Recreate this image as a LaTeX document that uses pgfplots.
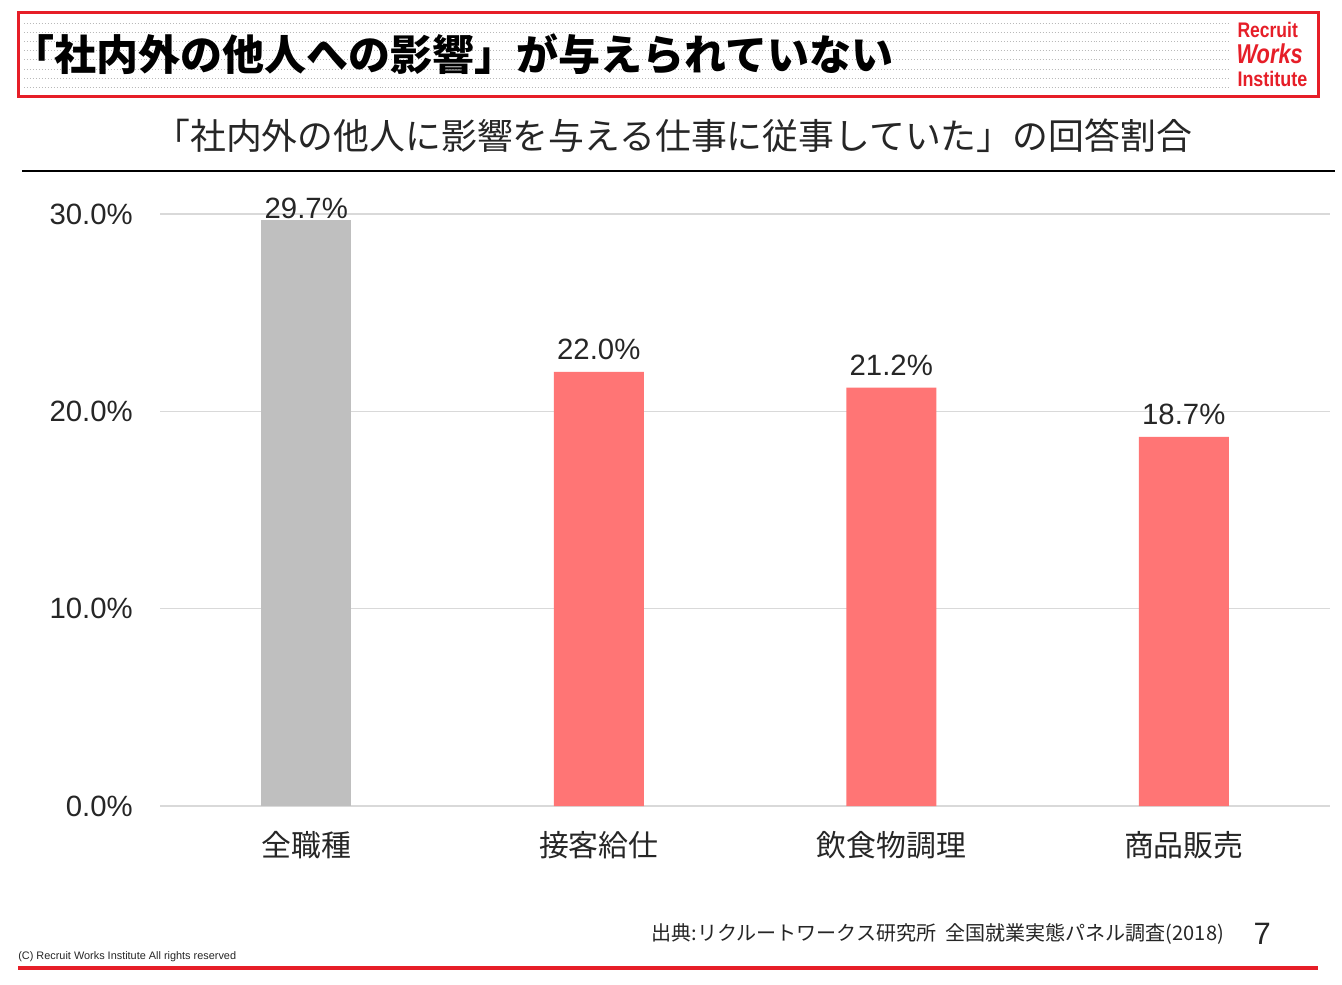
\documentclass[border=0pt]{standalone}
\usepackage{fontspec}
\usepackage{pgfplots}
\pgfplotsset{compat=1.18}
\setmainfont{Noto Sans CJK JP}
\newfontfamily\arial{Liberation Sans}
\definecolor{barred}{RGB}{255,117,117}
\definecolor{bargray}{RGB}{191,191,191}
\definecolor{gridgray}{RGB}{217,217,217}
\definecolor{logored}{RGB}{230,30,40}
\definecolor{txt}{RGB}{38,38,38}

\begin{document}
\begin{tikzpicture}
\fill[white] (0,0) rectangle (26.84cm,-19.68cm);
\begin{axis}[
    at={(3.2cm,-16.12cm)}, anchor=south west,
    scale only axis, width=23.4cm, height=11.84cm,
    xmin=-0.5, xmax=3.5, ymin=0, ymax=30,
    axis line style={draw=none},
    tick style={draw=none},
    ytick={0,10,20,30},
    ymajorgrids,
    grid style={gridgray, line width=0.03cm},
    /pgf/number format/assume math mode=true,
    yticklabel={\pgfmathprintnumber[fixed,fixed zerofill,precision=1]{\tick}\%},
    yticklabel style={font=\arial\fontsize{16.7}{20}\selectfont, text=txt, xshift=-0.42cm},
    xtick={0,1,2,3},
    xticklabels={全職種,接客給仕,飲食物調理,商品販売},
    xticklabel style={font=\fontsize{17}{20}\selectfont, text=txt, yshift=-0.24cm},
    ybar, bar width=1.8cm,
    point meta=y,
    nodes near coords={\pgfmathprintnumber[fixed,fixed zerofill,precision=1]{\pgfplotspointmeta}\%},
    nodes near coords style={font=\arial\fontsize{16.7}{20}\selectfont, text=txt, inner sep=0pt, anchor=base},
]
% all occupations
\addplot[fill=bargray, draw=none, bar shift=0pt,
    every node near coord/.append style={yshift=0.02cm}] coordinates {(0,29.7)};
% customer service, cooking, sales
\addplot[fill=barred, draw=none, bar shift=0pt,
    every node near coord/.append style={yshift=0.24cm}] coordinates {(1,22.0) (2,21.2) (3,18.7)};
\end{axis}

\begin{scope}[x=0.02cm, y=-0.02cm]
% title box
\foreach \r in {23,32.2,41.4,50.6,59.8,69,78.2,87.4}
    \draw[gray!55, line width=0.5pt, dash pattern=on 0.5pt off 1.2pt] (24,\r) -- (1228,\r);
\draw[logored, line width=0.06cm] (18,12) rectangle (1318,96);
\node[anchor=west, inner sep=0pt, font=\bfseries\fontsize{23.9}{28}\selectfont, text=black]
    at (12,54) {「社内外の他人への影響」が与えられていない};
% logo
\node[anchor=west, inner sep=0pt, xscale=0.83, text=logored, font=\arial\bfseries\fontsize{12}{14}\selectfont] at (1237,30) {Recruit};
\node[anchor=west, inner sep=0pt, xscale=0.8, text=logored, font=\arial\bfseries\itshape\fontsize{15.5}{18}\selectfont] at (1236,54) {Works};
\node[anchor=west, inner sep=0pt, xscale=0.85, text=logored, font=\arial\bfseries\fontsize{12}{14}\selectfont] at (1237,79) {Institute};
% subtitle
\node[anchor=west, inner sep=0pt, font=\fontsize{20.4}{24}\selectfont, text=txt]
    at (154,136) {「社内外の他人に影響を与える仕事に従事していた」の回答割合};
\draw[black, line width=0.04cm] (22,171) -- (1335,171);
% footer
\node[anchor=east, inner sep=0pt, font=\fontsize{11.4}{14}\selectfont, text=txt]
    at (1224,934) {出典:リクルートワークス研究所\ \ 全国就業実態パネル調査(2018)};
\node[inner sep=0pt, font=\arial\fontsize{17.6}{20}\selectfont, text=txt] at (1262,934) {7};
\node[anchor=west, inner sep=0pt, font=\arial\fontsize{6.2}{7}\selectfont, text=txt]
    at (18,956) {(C) Recruit Works Institute All rights reserved};
\draw[logored, line width=0.08cm] (18,968) -- (1318,968);
\end{scope}
\pgfresetboundingbox
\path[use as bounding box] (0,0) rectangle (26.84cm,-19.68cm);
\end{tikzpicture}
\end{document}
